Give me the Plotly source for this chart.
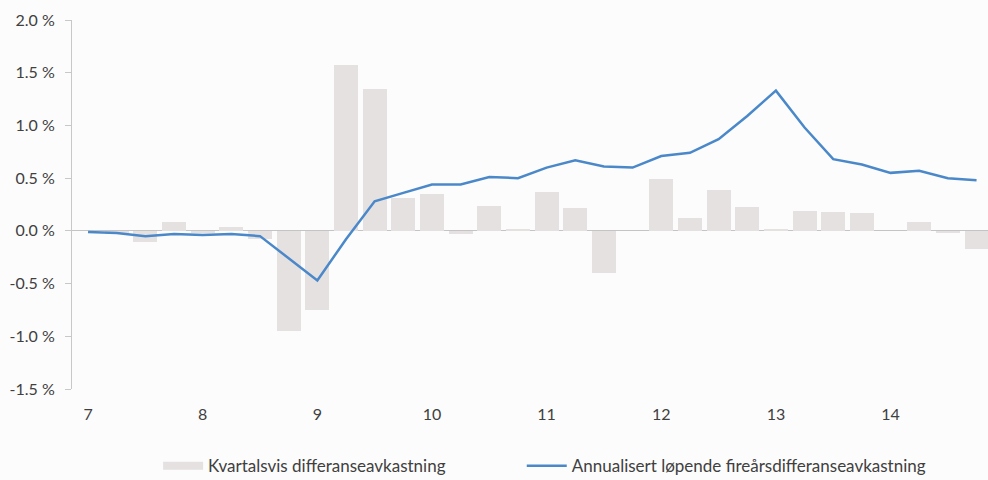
import plotly.graph_objects as go

# quarterly positions, year 7 .. year 14 Q4
quarters = [7 + k / 4 for k in range(32)]

# quarterly excess return (%)
kvartal = [0.0, -0.03, -0.11, 0.08, -0.02, 0.04, -0.08, -0.95,
           -0.75, 1.57, 1.35, 0.31, 0.35, -0.03, 0.24, 0.01,
           0.37, 0.22, -0.40, 0.0, 0.49, 0.12, 0.39, 0.23,
           0.01, 0.19, 0.18, 0.17, 0.0, 0.08, -0.02, -0.17]

# annualised rolling four-year excess return (%)
rullerende = [-0.01, -0.02, -0.05, -0.03, -0.04, -0.03, -0.05, -0.26,
              -0.47, -0.08, 0.28, 0.36, 0.44, 0.44, 0.51, 0.50,
              0.60, 0.67, 0.61, 0.60, 0.71, 0.74, 0.87, 1.09,
              1.33, 0.98, 0.68, 0.63, 0.55, 0.57, 0.50, 0.48]

year_ticks = [7, 8, 9, 10, 11, 12, 13, 14]
y_ticks = [-1.5, -1.0, -0.5, 0.0, 0.5, 1.0, 1.5, 2.0]

txt = "#404040"
bar_col = "#e6e1e1"
font = "Lato, 'Open Sans', sans-serif"

bar = go.Bar(x=quarters, y=kvartal, width=0.21, showlegend=False,
             marker=dict(color=bar_col, line=dict(width=0)))
# legend entry only: wide flat swatch like the original
bar_key = go.Scatter(x=[None], y=[None], mode="lines", name="Kvartalsvis differanseavkastning",
                     line=dict(color=bar_col, width=8), legend="legend")
line = go.Scatter(x=quarters, y=rullerende, mode="lines",
                  name="Annualisert løpende fireårsdifferanseavkastning",
                  line=dict(color="#4a88c9", width=2.5), legend="legend2")

leg = dict(orientation="h", xanchor="left", yref="container", y=0.029, yanchor="middle",
           font=dict(size=17, color=txt), itemwidth=40, bgcolor="rgba(0,0,0,0)")

layout = go.Layout(
    width=988, height=480,
    margin=dict(l=72, r=0, t=20, b=91),
    paper_bgcolor="#fcfcfc", plot_bgcolor="#fcfcfc",
    font=dict(family=font, size=16, color=txt),
    showlegend=True,
    legend=dict(leg, x=0.094),
    legend2=dict(leg, x=0.491),
    xaxis=dict(range=[6.86, 14.85], tickvals=year_ticks, ticktext=[str(v) for v in year_ticks],
               showgrid=False, zeroline=False, showline=False, ticks="",
               ticklabelstandoff=14, automargin=False),
    yaxis=dict(range=[-1.5, 2.0], tickvals=y_ticks,
               ticktext=[f"{v:.1f} %" for v in y_ticks],
               showgrid=False, zeroline=True, zerolinecolor="#c4c4c4", zerolinewidth=1,
               showline=True, linecolor="#c8c8c8", linewidth=1,
               ticks="outside", ticklen=6, tickcolor="#c8c8c8",
               ticklabelstandoff=7, automargin=False),
    bargap=0,
)

fig = go.Figure(data=[bar, bar_key, line], layout=layout)
fig.write_html("out.html", config={"displayModeBar": False},
               post_script="document.body.style.margin='0';")
